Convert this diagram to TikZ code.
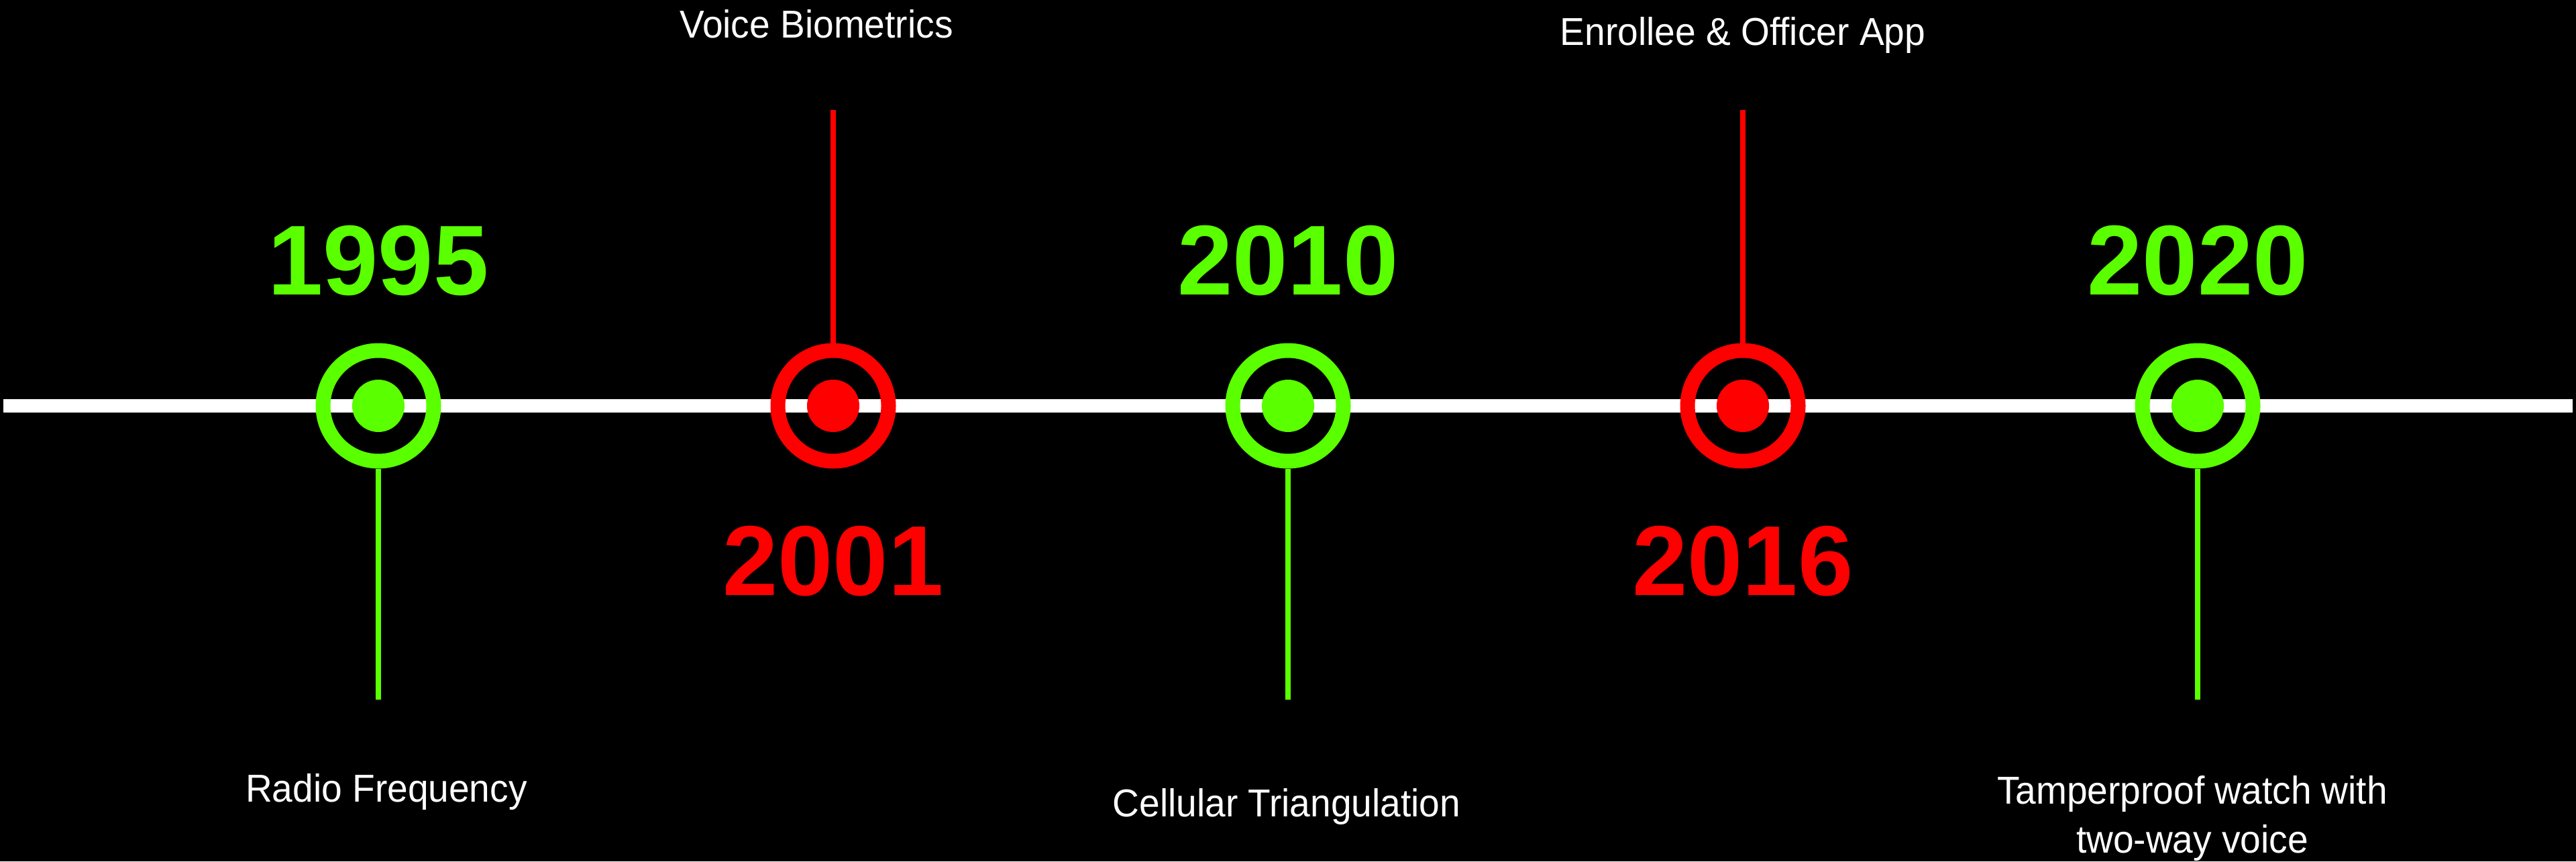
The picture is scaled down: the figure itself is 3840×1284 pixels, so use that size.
\documentclass[tikz,border=0pt]{standalone}
\usepackage{fontspec}
\setmainfont{Liberation Sans}
\newfontfamily\lblfont[FakeStretch=0.95]{Liberation Sans}
\definecolor{tlgreen}{HTML}{5AFF00}
\definecolor{tlred}{HTML}{FF0000}
\begin{document}
\begin{tikzpicture}[x=0.25pt,y=-0.25pt,
  ring/.style={circle,draw=#1,line width=5.5pt,minimum size=41.25pt,inner sep=0pt},
  dot/.style={circle,fill=#1,minimum size=19.5pt,inner sep=0pt},
  stem/.style={draw=#1,line width=2pt},
  year/.style={text=#1,font=\fontsize{37}{44}\selectfont\bfseries,anchor=base,inner sep=0pt},
  lbl/.style={text=white,font=\lblfont\fontsize{14.5}{18.2}\selectfont,anchor=base,inner sep=0pt,align=center},
]
\fill[black] (0,0) rectangle (3840,1284);
\useasboundingbox (0,0) rectangle (3840,1284);
\coordinate (L) at (5,605);
\coordinate (R) at (3835,605);
\draw[white,line width=4.8pt] (L) -- (R);

\node[ring=tlgreen] (c1) at (564,605) {};
\node[dot=tlgreen] (d1) at (c1) {};
\node[ring=tlred] (c2) at (1242,605) {};
\node[dot=tlred] (d2) at (c2) {};
\node[ring=tlgreen] (c3) at (1920,605) {};
\node[dot=tlgreen] (d3) at (c3) {};
\node[ring=tlred] (c4) at (2598,605) {};
\node[dot=tlred] (d4) at (c4) {};
\node[ring=tlgreen] (c5) at (3276,605) {};
\node[dot=tlgreen] (d5) at (c5) {};

\coordinate (s1) at (564,1043);
\coordinate (s3) at (1920,1043);
\coordinate (s5) at (3276,1043);
\coordinate (t2) at (1242,164);
\coordinate (t4) at (2598,164);
\draw[stem=tlgreen] (c1.south) -- (s1);
\draw[stem=tlgreen] (c3.south) -- (s3);
\draw[stem=tlgreen] (c5.south) -- (s5);
\draw[stem=tlred] (t2) -- (c2.north);
\draw[stem=tlred] (t4) -- (c4.north);

\node[year=tlgreen] (y1) at (564,439) {1995};
\node[year=tlred] (y2) at (1242,887) {2001};
\node[year=tlgreen] (y3) at (1920,439) {2010};
\node[year=tlred] (y4) at (2598,887) {2016};
\node[year=tlgreen] (y5) at (3276,439) {2020};

\node[lbl] (l1) at (576,1195) {Radio Frequency};
\node[lbl] (l2) at (1217,57) {Voice Biometrics};
\node[lbl] (l3) at (1918,1217) {Cellular Triangulation};
\node[lbl] (l4) at (2598,68) {Enrollee \& Officer App};
\node[lbl] (l5) at (3268,1271) {Tamperproof watch with\\two-way voice};
\end{tikzpicture}
\end{document}
